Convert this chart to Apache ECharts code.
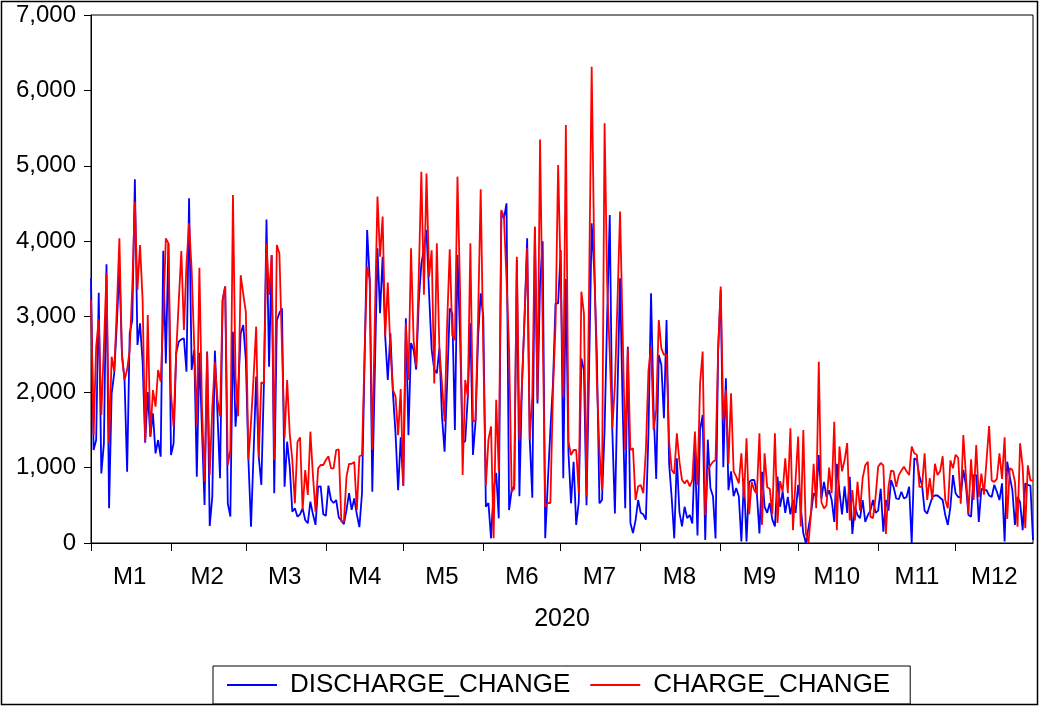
<!DOCTYPE html>
<html>
<head>
<meta charset="utf-8">
<script src="https://cdn.jsdelivr.net/npm/echarts@6/dist/echarts.min.js"></script>
<style>
  html, body { margin: 0; padding: 0; background: #fff; }
  #chart { width: 1040px; height: 707px; }
</style>
</head>
<body>
<div id="chart"></div>
<script>
// Month labels along the date axis and the length of each month in 2020
const monthLabels = ['M1', 'M2', 'M3', 'M4', 'M5', 'M6', 'M7', 'M8', 'M9', 'M10', 'M11', 'M12'];
const daysInMonth = [31, 29, 31, 30, 31, 30, 31, 31, 30, 31, 30, 31];

// Daily DISCHARGE_CHANGE, one row per month
const dischargeChange = [
  [3509,1233,1365,3319,923,1320,3694,460,1984,2250,2900,3655,2500,2161,946,2780,2957,4822,2625,2912,2400,1330,2000,1409,1718,1188,1365,1144,3875,2381,3972],
  [1166,1320,2514,2670,2700,2714,2272,4570,2294,2559,880,2523,1500,504,2537,226,615,2550,1720,858,3222,3400,526,350,2800,1542,2000,2780,2890],
  [2426,1100,217,1200,2206,1144,770,2117,4287,2338,3818,660,2950,3050,3111,747,1343,1012,415,460,349,380,460,305,261,548,380,240,747,750,380],
  [360,760,570,530,570,340,300,250,440,660,440,590,380,210,660,2400,4150,3500,680,2300,3907,3045,3796,2736,2161,2780,1984,1450,700,1400],
  [760,2979,1430,2650,2560,2300,3200,3700,3900,4150,3300,2560,2300,2250,2580,1675,1211,2115,3110,3045,1498,3818,2736,1330,1350,1940,2914,1167,1608,2736,3310],
  [3000,482,530,62,700,930,327,4393,4300,4503,437,700,760,3752,620,2115,3000,4039,1370,600,4172,1850,3440,4000,62,800,1500,2115,3177,3177],
  [3885,857,3500,1200,526,1078,239,540,2448,2290,500,2300,4238,3600,2500,526,570,1500,3000,4349,1490,390,2000,3509,1800,460,2600,265,133,300,570],
  [400,380,310,1460,3310,1770,850,2493,2360,1653,2957,1050,600,62,1122,410,220,480,330,370,260,1230,100,1500,1697,40,1370,730,620,60,2560],
  [3354,1005,2183,700,950,620,730,620,20,855,20,810,835,835,660,128,945,480,400,530,310,220,880,480,680,400,610,380,570,400],
  [770,480,128,0,200,400,660,610,1167,590,810,610,700,570,280,1050,680,380,750,400,879,120,480,370,330,570,280,370,430,570,400],
  [430,720,150,570,430,835,740,590,580,680,590,610,745,0,1122,1100,880,770,430,390,500,610,630,630,600,570,370,240,480,900],
  [660,610,610,970,770,370,350,900,900,280,720,700,700,630,610,770,680,570,790,20,1078,880,700,240,610,540,170,790,770,760,40]
];

// Daily CHARGE_CHANGE, one row per month
const chargeChange = [
  [3222,1433,2600,2965,1697,2600,3575,1321,2470,2271,3100,4039,2470,2161,2300,2559,3400,4525,3354,3951,3222,1341,3023,1409,2028,1807,2294,2139,3000,4039,3972],
  [1984,1542,2514,3200,3870,2824,3700,4240,3620,2600,1564,3650,1800,813,2530,900,1800,2400,1900,1680,3220,3400,1034,1233,4615,2200,1680,3550,3300],
  [3060,1100,1600,2200,2868,1144,2130,2117,3973,3288,3818,1100,3951,3840,2600,1388,2161,1450,1100,526,1340,1400,438,968,636,1476,893,415,990,1034,1034],
  [1100,1150,990,990,1232,1240,283,283,879,1050,1050,1075,438,1150,1165,2500,3664,3487,1233,3000,4592,3796,4327,2736,3452,2560,2030,1940,1430,2040],
  [760,2914,2161,3907,2690,2340,3530,4923,3290,4900,3530,3880,2115,3973,2560,2115,1610,2914,3894,2755,2690,4857,3350,901,2161,1940,3973,1608,1630,3000,4689],
  [2560,760,1370,1545,62,1900,950,4415,4327,3500,2560,680,720,3796,1370,2115,3000,3907,1370,1940,4195,1900,5350,2900,482,530,530,2000,2900,5011],
  [3500,1940,5542,1343,1166,1233,1233,659,3332,3045,615,3400,6315,3800,2161,1233,700,5564,3440,2500,1520,2100,3200,4393,2800,1233,2581,1233,1255,570,750],
  [770,660,1233,2290,2600,1500,1763,2957,2581,2493,2500,1340,968,920,1454,1078,835,790,835,750,835,1476,770,2115,2537,370,968,1030,1078,1100,2560],
  [3400,1630,2030,1050,1984,950,880,790,1190,590,1388,380,810,700,650,1454,240,1189,740,720,380,1454,265,820,680,1122,660,1520,170,835],
  [1410,220,1498,128,0,400,1050,460,2404,540,460,500,1000,660,1608,170,1280,950,1100,1325,300,700,300,810,430,860,1030,1075,350,330,610],
  [1010,1060,1030,120,745,960,950,745,900,960,1010,950,900,1277,1190,1170,745,745,1190,570,860,570,1050,900,950,1150,570,460,1095,990],
  [1170,1130,520,1432,900,390,1110,570,1300,610,920,640,1100,1551,830,810,850,1190,850,1400,320,990,970,810,215,1321,1010,195,1030,830,830]
];

const seriesNames = ['DISCHARGE_CHANGE', 'CHARGE_CHANGE'];
const axisTitle = '2020';

// Build one category per day; remember where each month starts and where its label sits
const pad = n => String(n).padStart(2, '0');
const days = [];
const monthStart = new Set();
const monthLabelAt = new Map();
daysInMonth.forEach((n, m) => {
  monthStart.add(days.length);
  monthLabelAt.set(days.length + Math.floor(n / 2), monthLabels[m]);
  for (let d = 1; d <= n; d++) days.push('2020-' + pad(m + 1) + '-' + pad(d));
});

const FONT = '"Liberation Sans", Arial, Helvetica, sans-serif';
const chart = echarts.init(document.getElementById('chart'), null, { renderer: 'canvas' });

chart.setOption({
  animation: false,
  backgroundColor: '#fff',
  textStyle: { fontFamily: FONT, color: '#000' },
  grid: {
    left: 91, top: 15, right: 7, bottom: 164,
    show: true, borderColor: '#000', borderWidth: 1, backgroundColor: '#fff'
  },
  graphic: [{
    type: 'rect', silent: true, z: 100,
    shape: { x: 1.5, y: 1.5, width: 1036, height: 703 },
    style: { fill: 'none', stroke: '#000', lineWidth: 1.5 }
  }],
  legend: {
    data: seriesNames,
    left: 213, top: 666,
    orient: 'horizontal',
    borderColor: '#000', borderWidth: 1,
    padding: [5, 20, 5, 14],
    itemGap: 20, itemWidth: 50, itemHeight: 2,
    icon: 'rect',
    textStyle: { fontFamily: FONT, fontSize: 26, color: '#000', lineHeight: 28, padding: [0, 0, 0, 8] }
  },
  xAxis: {
    type: 'category',
    data: days,
    boundaryGap: false,
    axisLine: { lineStyle: { color: '#000', width: 1 } },
    axisTick: { interval: i => monthStart.has(i), length: 8, lineStyle: { color: '#000' } },
    axisLabel: {
      interval: i => monthLabelAt.has(i),
      formatter: (v, i) => monthLabelAt.get(i) || '',
      fontFamily: FONT, fontSize: 24, color: '#000', margin: 22
    },
    splitLine: { show: false },
    name: axisTitle, nameLocation: 'middle', nameGap: 64,
    nameTextStyle: { fontFamily: FONT, fontSize: 25, color: '#000' }
  },
  yAxis: {
    type: 'value',
    min: 0, max: 7000, interval: 1000,
    axisLine: { show: true, lineStyle: { color: '#000', width: 1 } },
    axisTick: { show: true, length: 7, lineStyle: { color: '#000' } },
    axisLabel: {
      formatter: v => v.toLocaleString('en-US'),
      fontFamily: FONT, fontSize: 24, color: '#000', margin: 15
    },
    splitLine: { show: false }
  },
  series: [
    {
      name: seriesNames[0], type: 'line', data: dischargeChange.flat(),
      showSymbol: false, symbol: 'none',
      lineStyle: { color: '#0000ff', width: 1.8 }, itemStyle: { color: '#0000ff' }, z: 2
    },
    {
      name: seriesNames[1], type: 'line', data: chargeChange.flat(),
      showSymbol: false, symbol: 'none',
      lineStyle: { color: '#ff0000', width: 1.8 }, itemStyle: { color: '#ff0000' }, z: 3
    }
  ]
});
</script>
</body>
</html>
